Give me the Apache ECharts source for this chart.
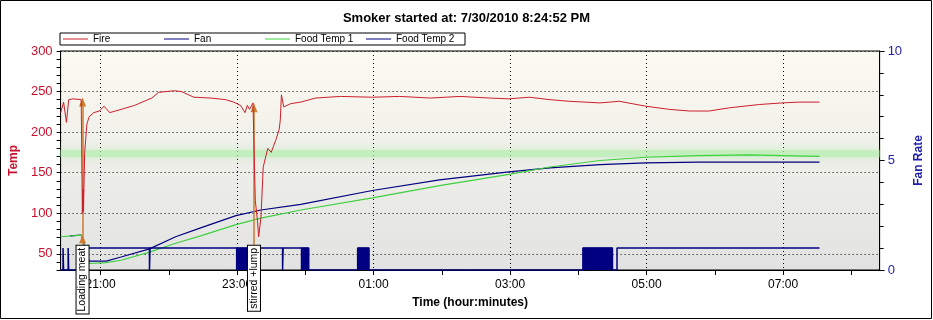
<!DOCTYPE html>
<html>
<head>
<meta charset="utf-8">
<script src="https://cdn.jsdelivr.net/npm/echarts@6.0.0/dist/echarts.min.js"></script>
<style>
  html, body { margin: 0; padding: 0; background: #fff; }
  #chart { width: 933px; height: 320px; }
</style>
</head>
<body>
<div id="chart"></div>
<script>
// start of the log and how long the x axis runs
const startTime = '20:24:52';
const spanMinutes = 720;

const tempTicks = [30, 40, 50, 60, 70, 80, 90, 100, 110, 120, 130, 140, 150, 160, 170, 180, 190, 200,
  210, 220, 230, 240, 250, 260, 270, 280, 290, 300];
const tempLabels = [50, 100, 150, 200, 250, 300];
const hourTicks = ['21:00', '22:00', '23:00', '00:00', '01:00', '02:00', '03:00', '04:00', '05:00', '06:00', '07:00', '08:00'];
const hourLabels = ['21:00', '23:00', '01:00', '03:00', '05:00', '07:00'];
const targetTemp = 174.5;

const fireData = [
  ['20:25', 224], ['20:27:30', 237], ['20:29', 235], ['20:30', 212], ['20:32', 240], ['20:36', 241],
  ['20:43', 240], ['20:44', 100], ['20:44:40', 130], ['20:45', 102], ['20:46', 174], ['20:48', 210],
  ['20:50', 219], ['20:54', 224], ['20:59', 226], ['21:03', 232], ['21:08', 224], ['21:18', 228],
  ['21:30', 233], ['21:45', 242], ['21:51', 249], ['22:05', 251], ['22:11', 250], ['22:22', 243],
  ['22:37', 242], ['22:50', 240], ['22:57', 237], ['23:03', 233], ['23:07', 224], ['23:09', 233],
  ['23:11', 228], ['23:14', 236], ['23:16', 116], ['23:18', 90], ['23:19', 71], ['23:21', 95],
  ['23:23', 157], ['23:27', 180], ['23:30', 175], ['23:34', 190], ['23:37', 203], ['23:38', 215],
  ['23:39', 246], ['23:41', 231], ['23:47', 235], ['23:56', 237], ['00:09', 242], ['00:31', 244],
  ['00:59', 243], ['01:23', 244], ['01:50', 242], ['02:16', 244], ['02:42', 242], ['02:59', 241],
  ['03:17', 243], ['03:35', 240], ['03:52', 238], ['04:19', 236], ['04:36', 238], ['04:59', 232],
  ['05:20', 228], ['05:38', 226], ['05:55', 226], ['06:13', 230], ['06:39', 234], ['06:59', 236],
  ['07:14', 237], ['07:32', 237]
];

const food1Data = [
  ['20:25', 71], ['20:43', 73], ['20:50', 38], ['21:05', 39], ['21:18', 42], ['21:43', 52],
  ['22:06', 63], ['22:28', 72], ['22:59', 86], ['23:21', 94], ['23:56', 104], ['00:59', 119],
  ['01:58', 134], ['02:59', 148], ['03:35', 157], ['04:19', 165], ['04:59', 169], ['05:46', 171],
  ['06:30', 172], ['06:59', 171], ['07:32', 170]
];

const food2Data = [
  ['20:33', 72], ['20:43', 73], ['20:50', 41], ['21:05', 41], ['21:18', 46], ['21:43', 56],
  ['22:06', 71], ['22:28', 82], ['22:59', 97], ['23:21', 104], ['23:56', 111], ['00:59', 128],
  ['01:58', 141], ['02:59', 151], ['03:35', 156], ['04:19', 160], ['04:59', 162], ['05:46', 163],
  ['06:59', 163], ['07:32', 163]
];

// fan on/off (held until the next entry)
const fanSteps = [
  ['20:24:52', 0], ['20:27', 1], ['20:27:30', 0], ['20:31:30', 1], ['20:32', 0], ['20:42', 1],
  ['21:43', 0], ['21:43:30', 1], ['23:40', 0], ['23:40:30', 1], ['00:03', 0], ['00:46', 1],
  ['00:56', 0], ['04:04', 1], ['04:30', 0], ['04:34', 1], ['07:32', 1]
];
// spans where the fan switched on and off too fast to tell apart
const fanCycling = [['22:59', '23:10'], ['23:56', '00:03'], ['00:46', '00:56'], ['04:04', '04:30']];

const notes = [
  { time: '20:44:10', top: 237, text: 'Loading meat' },
  { time: '23:14:52', top: 230, text: 'stirred +lump' }
];
const noteBase = 61;

function toMin(s) {
  const p = s.split(':').map(Number);
  let m = p[0] * 60 + p[1] + (p[2] || 0) / 60;
  if (p[0] < 12) m += 1440;
  return m;
}
function fmt(v) {
  const m = Math.round(v) % 1440;
  const h = Math.floor(m / 60), mm = m % 60;
  return (h < 10 ? '0' : '') + h + ':' + (mm < 10 ? '0' : '') + mm;
}
const pts = arr => arr.map(d => [toMin(d[0]), d[1]]);

const xMin = toMin(startTime);
const xMax = xMin + spanMinutes;
const font = 'Liberation Sans';
const red = '#c8102e';
const blue = '#1e1eaa';

const cyclingData = [];
fanCycling.forEach(c => {
  cyclingData.push([toMin(c[0]), 1], [toMin(c[1]), 1], [toMin(c[1]), null]);
});

const chart = echarts.init(document.getElementById('chart'));
const dotted = { show: true, lineStyle: { color: '#000', width: 1, type: [1, 3] } };

chart.setOption({
  animation: false,
  textStyle: { fontFamily: font },
  title: {
    text: 'Smoker started at: 7/30/2010 8:24:52 PM',
    left: 'center', top: 7,
    textStyle: { fontSize: 13, fontWeight: 'bold', color: '#000', fontFamily: font }
  },
  legend: {
    left: 60, top: 33,
    data: ['Fire', 'Fan', 'Food Temp 1', 'Food Temp 2'],
    icon: 'rect', itemWidth: 25, itemHeight: 1, itemGap: 5,
    padding: [1, 3],
    backgroundColor: '#fff', borderColor: '#000', borderWidth: 1, borderRadius: 0,
    textStyle: { fontSize: 10, color: '#000', width: 66, lineHeight: 10, fontFamily: font }
  },
  grid: {
    left: 59, right: 53, top: 51, bottom: 50,
    show: true, borderColor: '#000', borderWidth: 1,
    backgroundColor: new echarts.graphic.LinearGradient(0, 0, 0, 1, [
      { offset: 0, color: '#fbfbf1' },
      { offset: 1, color: '#e2e2e2' }
    ])
  },
  xAxis: [
    {
      type: 'value', min: xMin, max: xMax,
      axisLine: { onZero: false, lineStyle: { color: '#000' } },
      axisTick: { customValues: hourTicks.map(toMin), length: 5, lineStyle: { color: '#000' } },
      axisLabel: { customValues: hourLabels.map(toMin), formatter: fmt, color: '#000', fontSize: 12, margin: 9 },
      splitLine: { show: false },
      name: 'Time (hour:minutes)', nameLocation: 'middle', nameGap: 27,
      nameTextStyle: { fontSize: 12, fontWeight: 'bold', color: '#000' }
    },
    {
      type: 'value', min: xMin, max: xMax, position: 'bottom',
      axisLine: { show: false },
      axisTick: { show: false, customValues: hourLabels.map(toMin) },
      axisLabel: { show: false },
      splitLine: dotted
    }
  ],
  yAxis: [
    {
      type: 'value', min: 30, max: 300, position: 'left',
      axisLine: { show: true, onZero: false, lineStyle: { color: '#000' } },
      axisTick: { customValues: tempTicks, length: 4, lineStyle: { color: '#000' } },
      axisLabel: { customValues: tempLabels, color: red, fontSize: 13, margin: 8 },
      splitLine: { show: false },
      name: 'Temp', nameLocation: 'middle', nameGap: 36,
      nameTextStyle: { color: red, fontSize: 12, fontWeight: 'bold' }
    },
    {
      type: 'value', min: 0, max: 10, interval: 5, position: 'right',
      axisLine: { show: true, onZero: false, lineStyle: { color: '#000' } },
      axisTick: { length: 5, lineStyle: { color: '#000' } },
      minorTick: { show: true, splitNumber: 5, length: 4, lineStyle: { color: '#000' } },
      axisLabel: { color: blue, fontSize: 13, margin: 8 },
      splitLine: { show: false },
      name: 'Fan Rate', nameLocation: 'middle', nameGap: 30,
      nameTextStyle: { color: blue, fontSize: 12, fontWeight: 'bold' }
    },
    {
      type: 'value', min: 30, max: 300, position: 'left',
      axisLine: { show: false },
      axisTick: { show: false, customValues: tempLabels },
      axisLabel: { show: false },
      splitLine: dotted
    }
  ],
  series: [
    {
      name: 'Food Temp 2', type: 'line', yAxisIndex: 0, showSymbol: false, symbol: 'none',
      color: '#000080', lineStyle: { width: 1.2 },
      data: pts(food2Data), z: 3
    },
    {
      name: 'Food Temp 1', type: 'line', yAxisIndex: 0, showSymbol: false, symbol: 'none',
      color: '#3fd03f', lineStyle: { width: 1.2 },
      data: pts(food1Data),
      markLine: {
        silent: true, symbol: 'none', label: { show: false }, z: 1,
        lineStyle: { color: 'rgba(180,238,175,0.6)', width: 7, type: 'solid',
          shadowBlur: 8, shadowColor: 'rgba(170,235,165,0.9)' },
        data: [{ yAxis: targetTemp }]
      },
      z: 3
    },
    {
      name: 'Fan', type: 'line', yAxisIndex: 1, step: 'end', showSymbol: false, symbol: 'none',
      color: '#000080', lineStyle: { width: 1.5 },
      data: pts(fanSteps), z: 4
    },
    {
      name: 'Fan cycling', type: 'line', yAxisIndex: 1, showSymbol: false, symbol: 'none',
      color: '#000080', lineStyle: { width: 1 }, areaStyle: { color: '#000080', opacity: 1 },
      connectNulls: false, data: cyclingData, z: 4
    },
    {
      name: 'Fire', type: 'line', yAxisIndex: 0, showSymbol: false, symbol: 'none',
      color: '#cc1f2a', lineStyle: { width: 1 },
      data: pts(fireData), z: 5,
      markLine: {
        silent: true, symbol: ['none', 'triangle'], symbolSize: [7, 9],
        label: { show: false },
        lineStyle: { color: '#d07a30', width: 1.5, type: 'solid' },
        data: notes.map(n => [{ coord: [toMin(n.time), noteBase] }, { coord: [toMin(n.time), n.top] }])
      },
      markPoint: {
        silent: true, symbol: 'triangle', symbolSize: [7, 8],
        itemStyle: { color: '#d07a30' }, label: { show: false },
        data: [{ coord: [toMin(notes[0].time), 68] }]
      }
    }
  ]
});

const graphics = [{
  type: 'rect', silent: true,
  shape: { x: 0.5, y: 0.5, width: 931, height: 318 },
  style: { fill: 'none', stroke: '#000', lineWidth: 1 }
}];
notes.forEach(n => {
  const p = chart.convertToPixel({ xAxisIndex: 0, yAxisIndex: 0 }, [toMin(n.time), noteBase]);
  graphics.push({
    type: 'text', silent: true, x: p[0], y: p[1] + 1, rotation: Math.PI / 2, z: 100,
    style: {
      text: n.text, font: '10.5px ' + font, fill: '#000',
      align: 'right', verticalAlign: 'middle', textAlign: 'right', textVerticalAlign: 'middle',
      backgroundColor: '#fff', borderColor: '#000', borderWidth: 1, padding: [1, 2, 0, 2]
    }
  });
});
chart.setOption({ graphic: graphics });
</script>
</body>
</html>
